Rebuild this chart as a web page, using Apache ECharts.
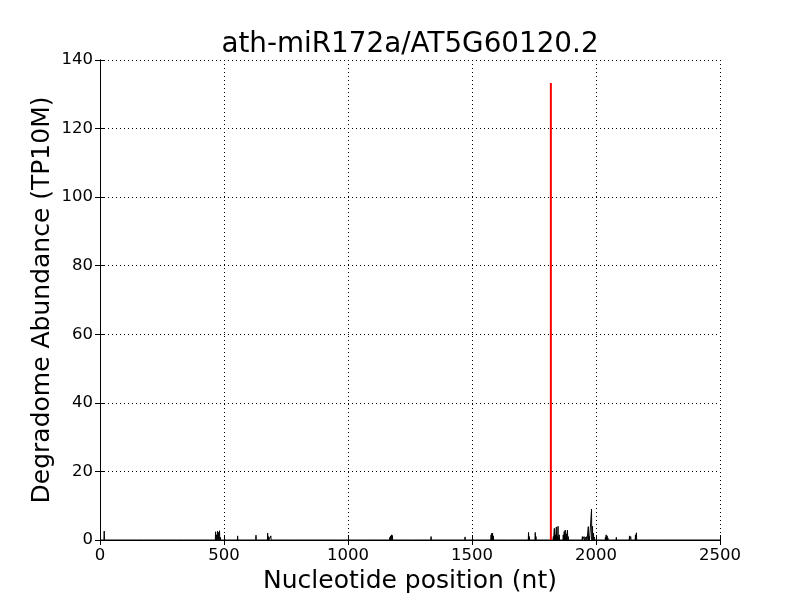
<!DOCTYPE html>
<html>
<head>
<meta charset="utf-8">
<script src="https://cdn.jsdelivr.net/npm/echarts@6/dist/echarts.min.js"></script>
<style>html,body{margin:0;padding:0;background:#fff}#c{width:800px;height:600px}</style>
</head>
<body>
<div id="c"></div>
<script>
const titleText = "ath-miR172a/AT5G60120.2";
const xLabel = "Nucleotide position (nt)";
const yLabel = "Degradome Abundance (TP10M)";
const xTicks = [0, 500, 1000, 1500, 2000, 2500];
const yTicks = [0, 20, 40, 60, 80, 100, 120, 140];
// degradome profile: nucleotide positions with non-zero abundance
const positions = [17,177,309,466,470,474,478,482,485,555,629,676,680,689,766,963,1024,1055,1073,1129,1135,1169,1172,1176,1179,1257,1335,1384,1472,1577,1580,1583,1586,1644,1728,1731,1755,1758,1828,1832,1836,1840,1844,1847,1852,1868,1872,1876,1880,1885,1888,1900,1920,1945,1952,1958,1963,1969,1973,1982,1986,1990,1994,2038,2041,2045,2048,2082,2135,2140,2159,2163,2210,2256];
const abundance = [2.6,0.3,0.4,2.4,1.5,2.6,2.2,2.7,0.8,1.2,1.4,2.0,1.0,1.2,0.3,0.2,0.3,0.3,0.2,0.3,0.3,0.8,1.2,1.5,1.3,0.3,1.0,0.3,0.9,1.5,2.0,2.0,1.2,0.2,2.2,1.0,2.2,1.0,1.0,3.4,1.5,3.8,1.0,4.0,1.5,1.5,2.5,2.9,1.8,2.9,1.0,0.5,0.3,1.0,1.0,0.8,1.0,3.9,1.0,9.0,4.0,2.0,0.8,0.8,1.5,1.2,0.6,0.8,1.2,1.0,1.5,2.1,0.2,0.2];
const targetPos = 1818;
const targetAbundance = 133.3;
const xMax = 2500, yMax = 140;

const profile = [[0, 0]];
positions.forEach((p, i) => { profile.push([p - 1, 0], [p, abundance[i]], [p + 1, 0]); });
profile.push([xMax, 0]);

const font = "DejaVu Sans";
const axisCommon = {
  type: 'value', min: 0,
  axisLine: {show: true, lineStyle: {color: '#000', width: 1}},
  axisTick: {show: true, inside: true, length: 5, lineStyle: {color: '#000'}},
  minorTick: {show: false}
};
const chart = echarts.init(document.getElementById('c'), null, {renderer: 'canvas'});
chart.setOption({
  animation: false,
  backgroundColor: '#fff',
  graphic: [{type: 'text', x: 410, y: 59, z: 10,
    style: {text: titleText, fontFamily: font, fontSize: 27.8, fill: '#000',
      textAlign: 'center', textVerticalAlign: 'bottom'}}],
  grid: {left: 100, right: 80, top: 60, bottom: 60},
  xAxis: [
    Object.assign({}, axisCommon, {position: 'bottom', max: xMax, interval: xTicks[1] - xTicks[0],
      name: xLabel, nameLocation: 'middle', nameGap: 29,
      nameTextStyle: {fontFamily: font, fontSize: 25, color: '#000'},
      axisLabel: {fontFamily: font, fontSize: 16.5, color: '#000', margin: 7, formatter: v => String(v)},
      splitLine: {show: true, lineStyle: {color: '#000', width: 1, type: [1, 3]}}}),
    Object.assign({}, axisCommon, {position: 'top', max: xMax, interval: xTicks[1] - xTicks[0],
      axisLabel: {show: false}, splitLine: {show: false}})
  ],
  yAxis: [
    Object.assign({}, axisCommon, {position: 'left', max: yMax, interval: yTicks[1] - yTicks[0],
      name: yLabel, nameLocation: 'middle', nameGap: 45, nameMoveOverlap: false,
      nameTextStyle: {fontFamily: font, fontSize: 25, color: '#000'},
      axisLabel: {fontFamily: font, fontSize: 16.5, color: '#000', margin: 7, formatter: v => String(v)},
      splitLine: {show: true, lineStyle: {color: '#000', width: 1, type: [1, 3]}}}),
    Object.assign({}, axisCommon, {position: 'right', max: yMax, interval: yTicks[1] - yTicks[0],
      axisLabel: {show: false}, splitLine: {show: false}})
  ],
  series: [
    {type: 'line', xAxisIndex: 0, yAxisIndex: 0, data: profile, showSymbol: false, symbol: 'none',
      lineStyle: {color: '#000', width: 1}, z: 3},
    {type: 'line', xAxisIndex: 0, yAxisIndex: 0, data: [[targetPos, 0], [targetPos, targetAbundance]],
      showSymbol: false, symbol: 'none', lineStyle: {color: '#ff0000', width: 2}, z: 4}
  ]
});
</script>
</body>
</html>
